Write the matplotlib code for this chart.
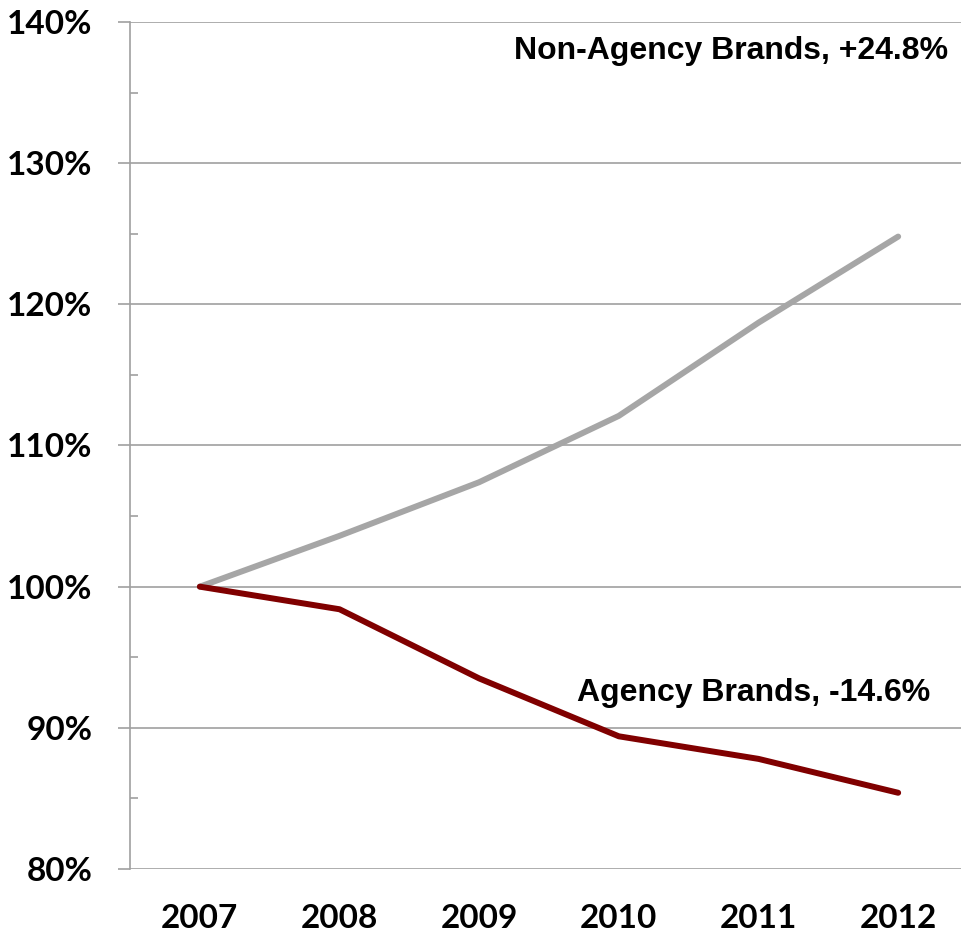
import matplotlib
matplotlib.use("Agg")
import matplotlib.pyplot as plt
from matplotlib.ticker import MultipleLocator, FuncFormatter

years = ["2007", "2008", "2009", "2010", "2011", "2012"]
non_agency = [100.0, 103.6, 107.4, 112.1, 118.7, 124.8]
agency = [100.0, 98.4, 93.5, 89.4, 87.8, 85.4]
label_non_agency = "Non-Agency Brands, +24.8%"
label_agency = "Agency Brands, -14.6%"

W, H = 961, 933
fig = plt.figure(figsize=(W / 100, H / 100), dpi=100)
ax = fig.add_axes([130 / W, (H - 869) / H, (968 - 130) / W, (869 - 22) / H])

x = list(range(len(years)))
ax.plot(x, non_agency, color="#A6A6A6", lw=4.3, solid_capstyle="round", solid_joinstyle="round", zorder=3)
ax.plot(x, agency, color="#800000", lw=4.3, solid_capstyle="round", solid_joinstyle="round", zorder=3)

ax.set_xlim(-0.5, 5.5)
ax.set_ylim(80, 140)
ax.set_xticks(x)
ax.set_xticklabels(years)
ax.yaxis.set_major_locator(MultipleLocator(10))
ax.yaxis.set_minor_locator(MultipleLocator(5))
ax.yaxis.set_major_formatter(FuncFormatter(lambda v, p: f"{v:.0f}%"))

ax.grid(axis="y", which="major", color="#A0A0A0", lw=1.2)
ax.set_axisbelow(True)
for s in ["top", "right", "bottom"]:
    ax.spines[s].set_visible(False)
ax.spines["left"].set_color("#A0A0A0")
ax.spines["left"].set_linewidth(1.2)

ax.tick_params(axis="y", which="major", direction="out", length=9, color="#A0A0A0", width=1.2, pad=18)
ax.tick_params(axis="y", which="minor", direction="in", length=6, color="#A0A0A0", width=1.2)
ax.tick_params(axis="x", length=0, pad=25)

for lab in ax.get_xticklabels() + ax.get_yticklabels():
    lab.set_fontfamily("Lato")
    lab.set_fontweight("bold")
    lab.set_fontsize(24)

ax.text(948 / W, (H - 51) / H, label_non_agency, transform=fig.transFigure, ha="right", va="center",
        fontfamily="Liberation Sans", fontweight="bold", fontsize=23)
ax.text(930 / W, (H - 693) / H, label_agency, transform=fig.transFigure, ha="right", va="center",
        fontfamily="Liberation Sans", fontweight="bold", fontsize=23)

fig.savefig("out.png", dpi=100)
